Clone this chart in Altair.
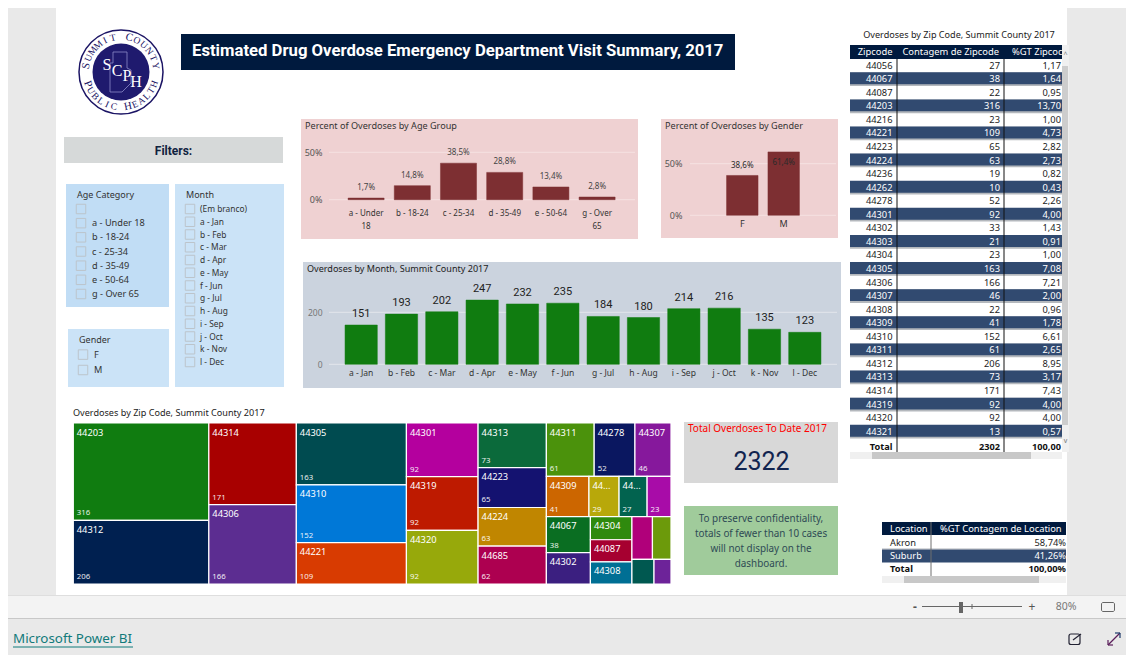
import math
import altair as alt
import pandas as pd

W, H = 1118, 647
OFF = 8
SANS = "Noto Sans"
DIN = "Roboto"

# ---------- data ----------
AGE_CATS = ["a - Under 18", "b - 18-24", "c - 25-34", "d - 35-49", "e - 50-64", "g - Over 65"]
AGE_PCT = [1.7, 14.8, 38.5, 28.8, 13.4, 2.8]
AGE_LBL = ["1,7%", "14,8%", "38,5%", "28,8%", "13,4%", "2,8%"]
GENDER_CATS = ["F", "M"]
GENDER_PCT = [38.6, 61.4]
GENDER_LBL = ["38,6%", "61,4%"]
MONTHS = ["a - Jan", "b - Feb", "c - Mar", "d - Apr", "e - May", "f - Jun", "g - Jul", "h - Aug",
          "i - Sep", "j - Oct", "k - Nov", "l - Dec"]
MONTH_N = [151, 193, 202, 247, 232, 235, 184, 180, 214, 216, 135, 123]
AGE_SLICER = [" ", "a - Under 18", "b - 18-24", "c - 25-34", "d - 35-49", "e - 50-64", "g - Over 65"]
MONTH_SLICER = ["(Em branco)"] + MONTHS
GENDER_SLICER = ["F", "M"]

ZIPS = ["44056", "44067", "44087", "44203", "44216", "44221", "44223", "44224", "44236", "44262",
        "44278", "44301", "44302", "44303", "44304", "44305", "44306", "44307", "44308", "44309",
        "44310", "44311", "44312", "44313", "44314", "44319", "44320", "44321"]
ZIP_N = [27, 38, 22, 316, 23, 109, 65, 63, 19, 10, 52, 92, 33, 21, 23, 163, 166, 46, 22, 41, 152,
         61, 206, 73, 171, 92, 92, 13]
ZIP_PCT = ["1,17", "1,64", "0,95", "13,70", "1,00", "4,73", "2,82", "2,73", "0,82", "0,43", "2,26",
           "4,00", "1,43", "0,91", "1,00", "7,08", "7,21", "2,00", "0,96", "1,78", "6,61", "2,65",
           "8,95", "3,17", "7,43", "4,00", "4,00", "0,57"]
LOC_NAMES = ["Akron", "Suburb", "Total"]
LOC_PCT = ["58,74%", "41,26%", "100,00%"]

# treemap: the zip list above plus zips scrolled out of the table
TREE_COUNTS = dict(zip(ZIPS, ZIP_N))
TREE_COUNTS["44..."] = 29
TREE_COUNTS["44685"] = 62
TREE_COLORS = {
    "44203": "#107C10", "44312": "#002050", "44314": "#A80000", "44306": "#5C2D91", "44305": "#004B50",
    "44310": "#0078D7", "44221": "#D83B01", "44301": "#B4009E", "44319": "#BE1A00", "44320": "#97A90B",
    "44313": "#0B6A3B", "44223": "#141270", "44224": "#C08600", "44685": "#AD0050", "44311": "#4B920C",
    "44278": "#0A1760", "44307": "#86189C", "44309": "#CC6600", "44...": "#B8A80A", "44056": "#02634F",
    "44216": "#A80CA8", "44067": "#0A6E22", "44302": "#3B1F80", "44304": "#2F8A0E", "44087": "#A60030",
    "44308": "#006F94", "44303": "#B0007A", "44236": "#6C9A0B", "44321": "#005850", "44262": "#6D2399",
}
TREE = ("H", [
    ("V", ["44203", "44312"]),
    ("V", ["44314", "44306"]),
    ("V", ["44305", "44310", "44221"]),
    ("V", ["44301", "44319", "44320"]),
    ("V", ["44313", "44223", "44224", "44685"]),
    ("V", [
        ("H", ["44311", "44278", "44307"]),
        ("H", ["44309", "44...", "44056", "44216"]),
        ("H", [
            ("V", ["44067", "44302"]),
            ("H", [
                ("V", ["44304", "44087", "44308"]),
                ("V", [("H", ["44303", "44236"]), ("H", ["44321", "44262"])]),
            ]),
        ]),
    ]),
])
TREE_SHORT = {"44056": "44...", "44...": "44..."}
TREE_NO_NAME = {"44216", "44303", "44236", "44321", "44262"}
TREE_NO_VALUE = {"44302", "44304", "44087", "44308", "44303", "44236", "44321", "44262"}


def total(node):
    if isinstance(node, str):
        return TREE_COUNTS[node]
    return sum(total(c) for c in node[1])


def layout(node, x0, y0, x1, y1, out):
    if isinstance(node, str):
        out.append(dict(zip=node, x0=x0, y0=y0, x1=x1, y1=y1, n=TREE_COUNTS[node],
                        fill=TREE_COLORS[node],
                        name="" if node in TREE_NO_NAME else TREE_SHORT.get(node, node),
                        val="" if node in TREE_NO_VALUE else str(TREE_COUNTS[node])))
        return out
    kind, kids = node
    t = total(node)
    pos = x0 if kind == "H" else y0
    for k in kids:
        f = total(k) / t
        if kind == "H":
            nxt = pos + (x1 - x0) * f
            layout(k, pos, y0, nxt, y1, out)
        else:
            nxt = pos + (y1 - y0) * f
            layout(k, x0, pos, x1, nxt, out)
        pos = nxt
    return out


tree_df = pd.DataFrame(layout(TREE, 0, 0, 1, 1, []))

# ---------- helpers ----------
ONE = alt.Data(values=[{"a": 1}])
layers = []


def V(v):
    return alt.value(v - OFF)


def rng(a, b):
    return [a - OFF, b - OFF]


def rect(x0, y0, x1, y1, color, **kw):
    layers.append(alt.Chart(ONE).mark_rect(color=color, **kw).encode(x=V(x0), x2=V(x1), y=V(y0), y2=V(y1)))


def box(x0, y0, x1, y1, stroke, sw=1, **kw):
    layers.append(alt.Chart(ONE).mark_rect(fillOpacity=0, stroke=stroke, strokeWidth=sw, **kw)
                  .encode(x=V(x0), x2=V(x1), y=V(y0), y2=V(y1)))


def line(x0, y0, x1, y1, color, sw=1):
    layers.append(alt.Chart(ONE).mark_rule(color=color, strokeWidth=sw)
                  .encode(x=V(x0), x2=V(x1), y=V(y0), y2=V(y1)))


def text(s, x, y, size=9, color="#222222", align="left", weight="normal", font=SANS, **kw):
    layers.append(alt.Chart(ONE).mark_text(align=align, baseline="middle", fontSize=size, color=color,
                                           fontWeight=weight, font=font, **kw)
                  .encode(x=V(x), y=V(y), text=alt.value(s)))


def bar_panel(cats, vals, lbls, xr, pi, y0px, ymaxpx, ymax, ticks, gx0, gx1, barcolor, gridcolor,
              ylabel_x, tick_expr, xlab_top, xlab_size, xlab_color, lab_size, lab_font, lab_color,
              lab_dy, lab_weight="normal", ycolor="#555555", ysize=9, line_h=13, xexpr=None):
    df = pd.DataFrame({"c": cats, "v": vals, "l": lbls})
    xs = alt.Scale(domain=cats, range=rng(*xr), paddingInner=pi, paddingOuter=pi / 2)
    ys = alt.Scale(domain=[0, ymax], range=rng(y0px, ymaxpx), nice=False)
    grid = pd.DataFrame({"t": ticks})
    layers.append(alt.Chart(grid).mark_rule(color=gridcolor, strokeWidth=1).encode(
        x=V(gx0), x2=V(gx1),
        y=alt.Y("t:Q", scale=ys, title=None,
                axis=alt.Axis(orient="left", offset=-(ylabel_x - OFF), values=ticks, grid=False, ticks=False,
                              domain=False, labelPadding=0, labelFont=SANS, labelFontSize=ysize,
                              labelColor=ycolor, labelExpr=tick_expr, zindex=1, title=None))))
    axis_kw = dict(orient="bottom", offset=xlab_top - OFF - H, grid=False, ticks=False, domain=False,
                   labelPadding=0, labelAngle=0, labelFont=SANS, labelFontSize=xlab_size, labelColor=xlab_color,
                   labelBaseline="top", labelOverlap=False, labelLimit=300, labelLineHeight=line_h, zindex=1,
                   labelAlign="center", title=None)
    if xexpr:
        axis_kw["labelExpr"] = xexpr
    layers.append(alt.Chart(df).mark_bar(color=barcolor, stroke=barcolor, strokeOpacity=.5, strokeWidth=1).encode(
        x=alt.X("c:N", scale=xs, sort=None, axis=alt.Axis(**axis_kw)),
        y=alt.Y("v:Q", scale=ys, stack=None, axis=None)))
    for i_dy, sub in lab_dy(df):
        layers.append(alt.Chart(sub).mark_text(dy=i_dy, fontSize=lab_size, font=lab_font, color=lab_color,
                                               fontWeight=lab_weight, baseline="middle").encode(
            x=alt.X("c:N", scale=xs, sort=None, axis=None),
            y=alt.Y("v:Q", scale=ys, stack=None, axis=None),
            text="l:N"))


def slicer(items, title, tx, ty, bx, lx, y_first, y_last, size, tsize=9):
    text(title, tx, ty, tsize, "#333333")
    df = pd.DataFrame({"i": items})
    ys = alt.Scale(domain=items, range=rng(y_first, y_last), padding=0)
    Y = alt.Y("i:O", scale=ys, sort=None, axis=None)
    layers.append(alt.Chart(df).mark_square(size=90, filled=False, stroke="#bcc4cb", strokeWidth=1, opacity=1)
                  .encode(x=V(bx), y=Y))
    layers.append(alt.Chart(df).mark_text(align="left", baseline="middle", fontSize=size, font=SANS, color="#333333")
                  .encode(x=V(lx), y=Y, text="i:N"))


# ---------- page chrome ----------
rect(8, 8, 1126, 596, "#E9E9E9")
rect(56, 8, 1067, 595, "#FFFFFF")
rect(8, 595, 1126, 618, "#F3F3F3")
line(8, 595.5, 1126, 595.5, "#DEDEDE")
rect(8, 618, 1126, 655, "#E9E9E9")
line(8, 618.5, 1126, 618.5, "#C8C8C8")

# ---------- logo ----------
CX, CY, R = 121, 72, 42
layers.append(alt.Chart(ONE).mark_point(shape="circle", filled=True, fill="#FFFFFF", stroke="#1B1464", strokeWidth=1.5,
                                        size=(2 * R) ** 2, opacity=1).encode(x=V(CX), y=V(CY)))
layers.append(alt.Chart(ONE).mark_point(shape="circle", filled=True, fill="#1F1A6E", stroke="#1F1A6E", strokeWidth=0,
                                        size=(2 * 28.5) ** 2, opacity=1).encode(x=V(CX), y=V(CY)))
COUNTY = [(113, 52), (127, 52), (127, 68), (131, 70), (131, 83), (122, 92), (110, 92), (110, 63), (113, 63), (113, 52)]
layers.append(alt.Chart(pd.DataFrame({"x": [p[0] - OFF for p in COUNTY], "y": [p[1] - OFF for p in COUNTY],
                                      "o": list(range(len(COUNTY)))})).mark_line(color="#8D8BC8", strokeWidth=.8).encode(
    x=alt.X("x:Q", scale=None), y=alt.Y("y:Q", scale=None), order="o:Q"))
for ch, x, y, s in [("S", 107, 65, 16), ("C", 117, 71, 16), ("P", 127, 76, 16), ("H", 136, 82, 16)]:
    text(ch, x, y, s, "#FFFFFF", "center", font="Liberation Serif")
ring = []
TOP = "SUMMIT COUNTY"
BOT = "PUBLIC HEALTH"
RR = 35.3
for i, ch in enumerate(TOP):
    th = -80 + i * 160 / (len(TOP) - 1)
    ring.append(dict(x=CX + RR * math.sin(math.radians(th)) - OFF, y=CY - RR * math.cos(math.radians(th)) - OFF,
                     a=th % 360, t=ch, s=11 if i in (0, 7) else 9.5))
for i, ch in enumerate(BOT):
    th = -70 + i * 140 / (len(BOT) - 1)
    ring.append(dict(x=CX + RR * math.sin(math.radians(th)) - OFF, y=CY + RR * math.cos(math.radians(th)) - OFF,
                     a=(-th) % 360, t=ch, s=11 if i in (0, 7) else 9.5))
layers.append(alt.Chart(pd.DataFrame(ring)).mark_text(font="Liberation Serif", color="#1B1464", baseline="middle").encode(
    x=alt.X("x:Q", scale=None), y=alt.Y("y:Q", scale=None), text="t:N",
    angle=alt.Angle("a:Q", scale=None), size=alt.Size("s:Q", scale=None)))

# ---------- title ----------
rect(181, 34, 735, 70, "#001A3E")
text("Estimated Drug Overdose Emergency Department Visit Summary, 2017", 192, 51, 16.7, "#FFFFFF", weight="bold", font=DIN)

# ---------- filters ----------
rect(64, 137, 283, 163, "#D6D9D9")
text("Filters:", 173.5, 150.5, 12, "#10223F", "center", "bold", font=DIN)
rect(66, 184, 169, 307, "#C1DDF5")
rect(175, 184, 284, 387, "#CBE3F7")
rect(68, 329, 169, 387, "#CBE3F7")
slicer(AGE_SLICER, "Age Category", 77, 195, 81, 92, 209, 294, 9.2)
slicer(MONTH_SLICER, "Month", 186, 194.5, 190, 200, 209, 362, 8.4)
slicer(GENDER_SLICER, "Gender", 79, 339.5, 83, 94, 354.6, 370, 9.2)

# ---------- age chart ----------
rect(301, 119, 638, 239, "#EFD1D2")
text("Percent of Overdoses by Age Group", 305, 126, 9.1, "#333333")
bar_panel(AGE_CATS, AGE_PCT, AGE_LBL, (343, 620.2), .22, 199.7, 152.3, 50, [0, 50], 329, 635, "#7D2F32", "#F6E2E2",
          322, "datum.value + '%'", 209, 8, "#333333", 8, SANS, "#444444",
          lambda d: [(-10, d)],
          xexpr="datum.label == 'a - Under 18' ? ['a - Under', '18'] : datum.label == 'g - Over 65' ? ['g - Over', '65'] : datum.label")

# ---------- gender chart ----------
rect(661, 119, 838, 238, "#EFD1D2")
text("Percent of Overdoses by Gender", 665, 126, 9.1, "#333333")
bar_panel(GENDER_CATS, GENDER_PCT, GENDER_LBL, (721.6, 804.4), .24, 215.3, 163.7, 50, [0, 50], 690, 836, "#7D2F32", "#F6E2E2",
          682, "datum.value + '%'", 219, 9, "#333333", 8, SANS, "#2A2A2A",
          lambda d: [(-9.5, d[d.c == "F"]), (11, d[d.c == "M"])])

# ---------- month chart ----------
rect(303, 262, 841, 388, "#CBD3DE")
text("Overdoses by Month, Summit County 2017", 307, 269, 9.05, "#222222")
bar_panel(MONTHS, MONTH_N, [str(v) for v in MONTH_N], (341, 825), .2, 364.3, 299.3, 250, [0, 200], 329, 837, "#107C10", "#E3E7EC",
          322, "datum.value", 368.5, 8.5, "#333333", 11, DIN, "#222222",
          lambda d: [(-11, d)], ycolor="#777777", ysize=8.5)

# ---------- treemap ----------
text("Overdoses by Zip Code, Summit County 2017", 73, 412.5, 9.1, "#222222")
tx = alt.Scale(domain=[0, 1], range=rng(73.3, 671), nice=False, zero=False)
ty = alt.Scale(domain=[0, 1], range=rng(423, 584), nice=False, zero=False)
layers.append(alt.Chart(tree_df).mark_rect(stroke="#FFFFFF", strokeWidth=1.2).encode(
    x=alt.X("x0:Q", scale=tx, axis=None), x2="x1:Q",
    y=alt.Y("y0:Q", scale=ty, axis=None), y2="y1:Q",
    fill=alt.Fill("fill:N", scale=None)))
layers.append(alt.Chart(tree_df[tree_df.name != ""]).mark_text(
    align="left", baseline="middle", dx=3.5, dy=9.5, fontSize=9.3, font=SANS, color="#FFFFFF").encode(
    x=alt.X("x0:Q", scale=tx, axis=None), y=alt.Y("y0:Q", scale=ty, axis=None), text="name:N"))
layers.append(alt.Chart(tree_df[tree_df.val != ""]).mark_text(
    align="left", baseline="middle", dx=3.5, dy=-7, fontSize=7.8, font=SANS, color="#FFFFFF", opacity=.9).encode(
    x=alt.X("x0:Q", scale=tx, axis=None), y=alt.Y("y1:Q", scale=ty, axis=None), text="val:N"))

# ---------- KPI + note ----------
rect(684, 422, 838, 483, "#D8D8D8")
text("Total Overdoses To Date 2017", 688, 429, 10, "#FF0000")
text(str(2322), 761.5, 462, 25, "#11244F", "center", font=DIN)
rect(684, 506, 838, 575, "#A0CB9B")
for i, s in enumerate(["To preserve confidentiality,", "totals of fewer than 10 cases", "will not display on the", "dashboard."]):
    text(s, 761, 518.5 + i * 15, 9.9, "#2E4A55", "center")

# ---------- zip table ----------
text("Overdoses by Zip Code, Summit County 2017", 959, 34.5, 9.1, "#222222", "center")
zip_df = pd.DataFrame({"z": ZIPS, "n": [str(v) for v in ZIP_N], "p": ZIP_PCT})
zip_df["dark"] = [i % 2 == 1 for i in range(len(ZIPS))]
zip_df["tc"] = ["#FFFFFF" if d else "#222222" for d in zip_df.dark]
zy = alt.Y("z:O", scale=alt.Scale(domain=ZIPS, range=rng(58.9, 438.5), paddingInner=0, paddingOuter=0), sort=None, axis=None)
zy_dark = alt.Y("z:O", scale=alt.Scale(domain=ZIPS, range=rng(57.9, 437.5), paddingInner=.12, paddingOuter=.06), sort=None, axis=None)
dark = zip_df[zip_df.dark]
layers.append(alt.Chart(dark).mark_rect(color="#B4B8BD").encode(x=V(850), x2=V(1062), y=zy))
layers.append(alt.Chart(dark).mark_rect(color="#314A70").encode(x=V(850), x2=V(1062), y=zy_dark))
rect(850, 45, 1062, 59, "#001A3E")
for col, xr in [("z", 892.5), ("n", 1000), ("p", 1061)]:
    layers.append(alt.Chart(zip_df).mark_text(align="right", baseline="middle", fontSize=9.3, font=SANS).encode(
        x=V(xr), y=zy, text=f"{col}:N", color=alt.Color("tc:N", scale=None)))
text("Zipcode", 892.5, 52, 9.4, "#FFFFFF", "right")
text("Contagem de Zipcode", 999, 52, 9.4, "#FFFFFF", "right")
text("%GT Zipcoc", 1012, 52, 9.4, "#FFFFFF", "left")
line(897, 59, 897, 452, "#111111")
line(1004, 59, 1004, 452, "#111111")
text("Total", 892.5, 446.5, 9.2, "#111111", "right", "bold")
text("2302", 1000, 446.5, 9.2, "#111111", "right", "bold")
text("100,00", 1061, 446.5, 9.2, "#111111", "right", "bold")
# scrollbars
rect(1062, 45, 1069, 452, "#F0F0F0")
rect(1062, 66, 1068, 425, "#CDCDCD")
rect(850, 452, 1062, 459, "#F0F0F0")
rect(872, 452, 1031, 459, "#C8C8C8")
text("^", 1065.5, 55, 7, "#777777", "center")
text("v", 1065.5, 441, 7, "#777777", "center")

# ---------- location table ----------
rect(882, 522, 1066, 535, "#001A3E")
loc_df = pd.DataFrame({"l": LOC_NAMES, "p": LOC_PCT})
ly = alt.Y("l:O", scale=alt.Scale(domain=LOC_NAMES, range=rng(535.8, 576), paddingInner=0, paddingOuter=0), sort=None, axis=None)
layers.append(alt.Chart(loc_df[loc_df.l == "Suburb"]).mark_rect(color="#314A70").encode(x=V(882), x2=V(1066), y=ly))
line(882, 549, 1066, 549, "#AEB2B8")
loc_df["c"] = ["#222222", "#FFFFFF", "#111111"]
loc_df["w"] = ["normal", "normal", "bold"]
for w in ["normal", "bold"]:
    sub = loc_df[loc_df.w == w]
    layers.append(alt.Chart(sub).mark_text(align="left", baseline="middle", fontSize=9.3, font=SANS, fontWeight=w).encode(
        x=V(890), y=ly, text="l:N", color=alt.Color("c:N", scale=None)))
    layers.append(alt.Chart(sub).mark_text(align="right", baseline="middle", fontSize=9.3, font=SANS, fontWeight=w).encode(
        x=V(1066), y=ly, text="p:N", color=alt.Color("c:N", scale=None)))
text("Location", 890, 528.7, 9.4, "#FFFFFF", "left")
text("%GT Contagem de Location", 940, 528.7, 9.4, "#FFFFFF", "left")
line(931, 522, 931, 576, "#6E6E6E")
rect(882, 576, 1066, 583, "#F0F0F0")
rect(904, 576, 1039, 583, "#C8C8C8")

# ---------- status bar ----------
text("-", 915, 606.5, 12, "#555555", "center", "bold")
line(922, 606.5, 1022, 606.5, "#666666")
rect(959, 602, 963, 613, "#666666")
line(972, 604, 972, 609, "#666666")
text("+", 1032, 606.5, 12, "#555555", "center")
text("80%", 1066, 606.5, 10.5, "#777777", "center")
box(1101.5, 602.5, 1114.5, 611.5, "#666666", 1, cornerRadius=1.5)

# ---------- footer ----------
text("Microsoft Power BI", 13, 639, 13.4, "#117A7A")
line(13, 647, 133, 647, "#117A7A")
box(1069, 634, 1080, 644.5, "#222233", 1.2, cornerRadius=2)
line(1073, 640, 1081, 634, "#222233", 1.2)
line(1108, 645, 1120, 633, "#5B1E5B", 1.2)
line(1108, 645, 1108, 640, "#5B1E5B", 1.2)
line(1108, 645, 1113, 645, "#5B1E5B", 1.2)
line(1120, 633, 1115, 633, "#1B3A6B", 1.2)
line(1120, 633, 1120, 638, "#1B3A6B", 1.2)

chart = (alt.layer(*layers)
         .resolve_scale(x="independent", y="independent")
         .properties(width=W, height=H, padding=0, background="#E9E9E9",
                     autosize=alt.AutoSizeParams(type="none", contains="padding"))
         .configure_view(stroke=None))
chart.save("out.html", embed_options={"renderer": "svg", "actions": False})
